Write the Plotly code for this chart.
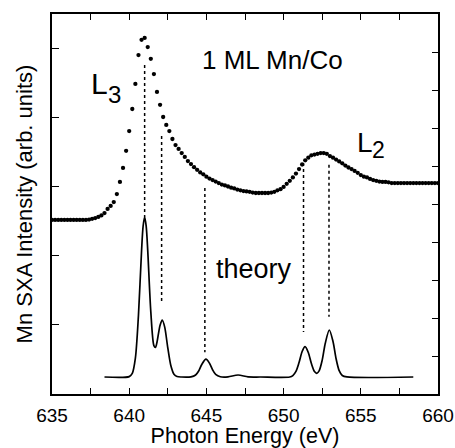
import plotly.graph_objects as go

# ---------------- data ----------------
exp_energy = [635.0, 635.2, 635.4, 635.6, 635.8, 636.0, 636.2, 636.4, 636.6, 636.8,
              637.0, 637.2, 637.4, 637.6, 637.8, 638.0, 638.2, 638.4, 638.6, 638.8,
              639.0, 639.2, 639.4, 639.6, 639.8, 640.0, 640.2, 640.4, 640.6, 640.8,
              641.0, 641.2, 641.4, 641.6, 641.8, 642.0, 642.2, 642.4, 642.6, 642.8,
              643.0, 643.2, 643.4, 643.6, 643.8, 644.0, 644.2, 644.4, 644.6, 644.8,
              645.0, 645.2, 645.4, 645.6, 645.8, 646.0, 646.2, 646.4, 646.6, 646.8,
              647.0, 647.2, 647.4, 647.6, 647.8, 648.0, 648.2, 648.4, 648.6, 648.8,
              649.0, 649.2, 649.4, 649.6, 649.8, 650.0, 650.2, 650.4, 650.6, 650.8,
              651.0, 651.2, 651.4, 651.6, 651.8, 652.0, 652.2, 652.4, 652.6, 652.8,
              653.0, 653.2, 653.4, 653.6, 653.8, 654.0, 654.2, 654.4, 654.6, 654.8,
              655.0, 655.2, 655.4, 655.6, 655.8, 656.0, 656.2, 656.4, 656.6, 656.8,
              657.0, 657.2, 657.4, 657.6, 657.8, 658.0, 658.2, 658.4, 658.6, 658.8,
              659.0, 659.2, 659.4, 659.6, 659.8, 660.0]
exp_intensity = [4.58, 4.58, 4.58, 4.58, 4.58, 4.58, 4.58, 4.58, 4.58, 4.58,
                 4.58, 4.58, 4.59, 4.61, 4.63, 4.66, 4.70, 4.76, 4.87, 4.95,
                 5.05, 5.26, 5.58, 5.95, 6.40, 6.92, 7.50, 8.16, 8.92, 9.32,
                 9.37, 9.13, 8.82, 8.42, 7.95, 7.61, 7.29, 7.08, 6.92, 6.71,
                 6.55, 6.45, 6.34, 6.24, 6.13, 6.05, 5.97, 5.90, 5.83, 5.78,
                 5.72, 5.67, 5.63, 5.59, 5.55, 5.51, 5.49, 5.46, 5.43, 5.41,
                 5.38, 5.36, 5.34, 5.33, 5.32, 5.30, 5.29, 5.29, 5.29, 5.29,
                 5.29, 5.30, 5.32, 5.36, 5.39, 5.45, 5.53, 5.61, 5.70, 5.80,
                 5.92, 6.04, 6.15, 6.22, 6.28, 6.30, 6.32, 6.34, 6.34, 6.32,
                 6.26, 6.22, 6.17, 6.12, 6.07, 6.01, 5.96, 5.92, 5.87, 5.82,
                 5.76, 5.72, 5.70, 5.66, 5.63, 5.61, 5.59, 5.58, 5.58, 5.57,
                 5.55, 5.55, 5.55, 5.55, 5.55, 5.55, 5.55, 5.55, 5.55, 5.55,
                 5.55, 5.55, 5.55, 5.55, 5.55, 5.55]

theory_energy = [638.4, 640.0, 640.2, 640.4, 640.6, 640.8, 640.9, 641.0, 641.1, 641.2,
                 641.4, 641.6, 641.7, 641.8, 642.0, 642.14, 642.3, 642.5, 642.7, 642.9,
                 643.1, 643.4, 644.0, 644.3, 644.5, 644.7, 644.97, 645.2, 645.4, 645.6,
                 645.9, 646.4, 647.05, 647.7, 648.5, 650.4, 650.6, 650.8, 651.0, 651.2,
                 651.39, 651.6, 651.8, 652.0, 652.15, 652.3, 652.5, 652.7, 652.96, 653.2,
                 653.4, 653.6, 653.8, 654.1, 658.4]
theory_intensity = [0.447, 0.458, 0.541, 0.942, 2.073, 3.765, 4.414, 4.657, 4.419, 3.78,
                    2.16, 1.271, 1.224, 1.363, 1.812, 1.947, 1.76, 1.212, 0.741, 0.521,
                    0.459, 0.447, 0.452, 0.50, 0.607, 0.777, 0.917, 0.81, 0.637, 0.515,
                    0.454, 0.45, 0.50, 0.45, 0.447, 0.447, 0.485, 0.593, 0.828, 1.118,
                    1.247, 1.092, 0.80, 0.591, 0.545, 0.608, 0.89, 1.336, 1.684, 1.381,
                    0.928, 0.614, 0.486, 0.449, 0.447]

guide_energy = [641.0, 642.1, 644.9, 651.29, 652.94]
guide_top = [8.66, 6.79, 5.42, 6.08, 6.03]
guide_bottom = [4.66, 2.42, 1.10, 1.63, 2.03]

x_tick_labels = ["635", "640", "645", "650", "655", "660"]

FONT = "Liberation Sans, Arial, Helvetica, sans-serif"

# ---------------- figure ----------------
fig = go.Figure()

gx, gy = [], []
for e, t, b in zip(guide_energy, guide_top, guide_bottom):
    gx += [e, e, None]
    gy += [t, b, None]
fig.add_trace(go.Scatter(x=gx, y=gy, mode="lines",
                         line=dict(color="black", width=1.5, dash="3px,3px"),
                         hoverinfo="skip"))

fig.add_trace(go.Scatter(x=theory_energy, y=theory_intensity, mode="lines",
                         line=dict(color="black", width=1.7, shape="spline", smoothing=0.8)))

fig.add_trace(go.Scatter(x=exp_energy, y=exp_intensity, mode="markers",
                         marker=dict(color="black", size=4.3)))

# dummy trace to activate right axis
fig.add_trace(go.Scatter(x=[None], y=[None], yaxis="y2", mode="markers"))

tick_vals = [635, 640, 645, 650, 655, 660]

fig.update_layout(
    width=455, height=448,
    margin=dict(l=52, r=17, t=14, b=54),
    paper_bgcolor="white", plot_bgcolor="white",
    showlegend=False,
    font=dict(family=FONT, color="black"),
    xaxis=dict(
        range=[635, 660], tickmode="array", tickvals=tick_vals, ticktext=x_tick_labels,
        ticks="inside", ticklen=6, tickwidth=1.3, tickcolor="black",
        ticklabelstandoff=3, automargin=False,
        showline=True, linewidth=1.6, linecolor="black", mirror="ticks",
        minor=dict(tickmode="linear", tick0=635, dtick=2.5, ticks="inside", ticklen=6,
                   tickwidth=1.3, tickcolor="black", showgrid=False),
        showgrid=False, zeroline=False,
        tickfont=dict(size=19, family=FONT),
        title=dict(text="Photon Energy (eV)", font=dict(size=21.5, family=FONT), standoff=12),
    ),
    yaxis=dict(
        range=[0, 10], tick0=0, dtick=10 / 5.505,
        ticks="inside", ticklen=7, tickwidth=1.3, tickcolor="black",
        showticklabels=False, automargin=False,
        showline=True, linewidth=1.6, linecolor="black",
        showgrid=False, zeroline=False,
        title=dict(text="Mn SXA Intensity (arb. units)", font=dict(size=22, family=FONT), standoff=12),
    ),
    yaxis2=dict(
        range=[0, 10], tick0=0, dtick=1, overlaying="y", side="right",
        ticks="inside", ticklen=6, tickwidth=1.3, tickcolor="black",
        showticklabels=False, automargin=False,
        showline=True, linewidth=1.6, linecolor="black",
        showgrid=False, zeroline=False,
    ),
)

annots = [
    dict(text="1 ML Mn/Co", x=649.3, y=8.78, size=26),
    dict(text="theory", x=648.1, y=3.3, size=27),
    dict(text="L", x=638.08, y=8.16, size=30),
    dict(text="3", x=639.02, y=7.89, size=24),
    dict(text="L", x=655.24, y=6.62, size=28),
    dict(text="2", x=656.15, y=6.43, size=23),
]
for a in annots:
    fig.add_annotation(text=a["text"], x=a["x"], y=a["y"], xref="x", yref="y",
                       showarrow=False, xanchor="center", yanchor="middle",
                       font=dict(size=a["size"], family=FONT, color="black"))

fig.write_html("out.html")
